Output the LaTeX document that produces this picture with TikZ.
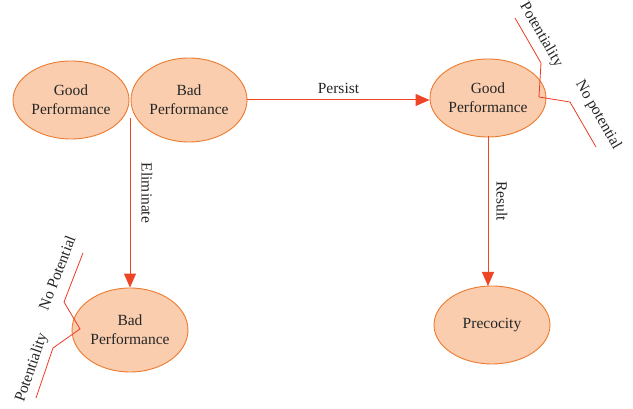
\documentclass[tikz,border=0pt]{standalone}
\usepackage{fontspec}
\setmainfont{Liberation Serif}
\usetikzlibrary{shapes.geometric,arrows.meta}
\definecolor{fillc}{HTML}{F9CDAE}
\definecolor{edgec}{HTML}{EE7A2E}
\definecolor{arrc}{HTML}{EE4527}
\definecolor{linec}{HTML}{EE3B25}
\tikzset{
  perf/.style={ellipse, draw=edgec, line width=0.9pt, fill=fillc, minimum width=116pt, minimum height=78pt, inner sep=0pt, align=center, font=\fontsize{15.5}{19}\selectfont, text=black!85},
  conn/.style={draw=arrc, line width=1pt, -{Triangle[width=12pt,length=14pt]}},
  lbl/.style={font=\fontsize{15.5}{18}\selectfont, text=black!85, inner sep=0pt},
  branch/.style={draw=linec, line width=0.8pt},
}
\begin{document}
\begin{tikzpicture}[x=1pt,y=1pt]
\useasboundingbox (0,0) rectangle (633,409);
\node[perf] (g1) at (71,309) {Good\\Performance};
\node[perf, minimum height=84pt] (b1) at (189,309) {Bad\\Performance};
\node[perf] (g2) at (488,311) {Good\\Performance};
\node[perf, minimum height=84pt] (b2) at (130,79) {Bad\\Performance};
\node[perf] (pre) at (492,84) {Precocity};
\coordinate (es) at (130,291);
\coordinate (rs) at (488,273);
\coordinate (re) at (488,123);
\draw[conn] (b1.east) -- (b1.east -| g2.west) node[lbl, midway, above=6pt] (lp) {Persist};
\draw[conn] (es) -- (b2.north);
\node[lbl, rotate=-90] (lel) at (147,216) {Eliminate};
\draw[conn] (rs) -- (re);
\node[lbl, rotate=-90] (lr) at (502,208) {Result};
% right branches
\coordinate (r1) at (515,391);
\coordinate (r2) at (541,346);
\coordinate (r3) at (539,312);
\coordinate (r4) at (570,307);
\coordinate (r5) at (596,262);
\draw[branch] (r1) -- (r2) -- (r3) -- (r4) -- (r5);
\node[lbl, rotate=-60] (rp) at (541,374) {Potentiality};
\node[lbl, rotate=-60] (rn) at (598,294) {No potential};
% left branches
\coordinate (l1) at (83,156);
\coordinate (l2) at (64,107);
\coordinate (l3) at (80,80);
\coordinate (l4) at (53,61);
\coordinate (l5) at (36,11);
\draw[branch] (l1) -- (l2) -- (l3) -- (l4) -- (l5);
\node[lbl, rotate=69] (ln) at (57,136) {No Potential};
\node[lbl, rotate=71] (lpt) at (32,41) {Potentiality};
\end{tikzpicture}
\end{document}
